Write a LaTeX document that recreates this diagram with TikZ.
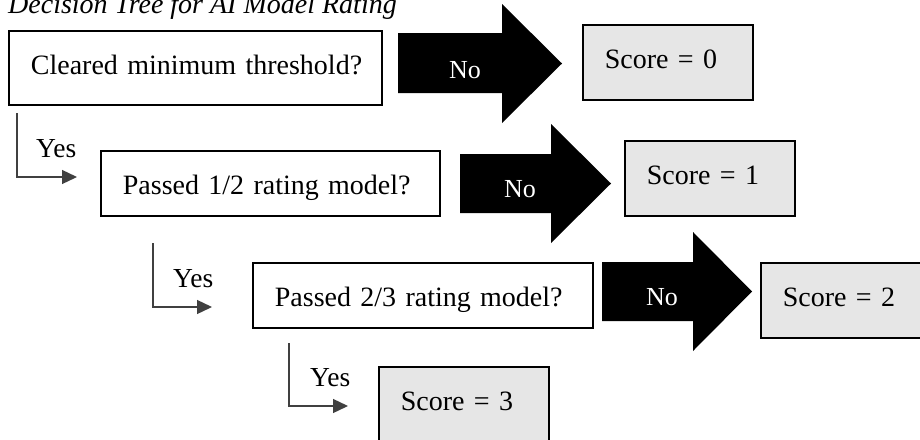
\documentclass[tikz,border=0pt]{standalone}
\usepackage{fontspec}
\setmainfont{Liberation Serif}
\usetikzlibrary{arrows.meta}
\definecolor{scorefill}{HTML}{E6E6E6}
\definecolor{connc}{HTML}{404040}
\tikzset{
  qbox/.style={draw=black, line width=1.8pt, fill=white, anchor=north west,
    inner xsep=22pt, inner ysep=0pt, align=left, text height=44pt,
    font=\fontsize{28}{32}\selectfont},
  sbox/.style={qbox, fill=scorefill, text width=126pt, text depth=31pt},
  blockarrow/.style={fill=black, draw=none},
  nolabel/.style={text=white, anchor=base west, inner sep=0pt, font=\fontsize{26}{30}\selectfont},
  yeslabel/.style={anchor=base west, inner sep=0pt, font=\fontsize{27.5}{30}\selectfont},
  yesline/.style={draw=connc, line width=1.3pt, -{Triangle[length=15pt,width=14pt]}},
}
\begin{document}
\begin{tikzpicture}[x=1pt,y=-1pt]
\clip (0,0) rectangle (920,439);
\fill[white] (0,0) rectangle (920,439);
% title
\node[anchor=base west, inner sep=0pt, font=\fontsize{28}{32}\selectfont\itshape] (title) at (8,13) {Decision Tree for AI Model Rating};
% question boxes
\node[qbox, text width=329pt, text depth=30pt] (q1) at (8,30) {\mbox{Cleared minimum threshold?}};
\node[qbox, text width=295pt, text depth=21pt] (q2) at (100,150) {\mbox{Passed 1/2 rating model?}};
\node[qbox, text width=296pt, text depth=21pt] (q3) at (252,262) {\mbox{Passed 2/3 rating model?}};
% score boxes
\node[sbox] (s0) at (582,24) {\mbox{Score = 0}};
\node[sbox] (s1) at (624,140) {\mbox{Score = 1}};
\node[sbox] (s2) at (760,262) {\mbox{Score = 2}};
\node[sbox] (s3) at (378,366) {\mbox{Score = 3}};
% block arrows (No)
\fill[blockarrow] (398,33) -- (502,33) -- (502,4) -- (562,63.5) -- (502,123) -- (502,93) -- (398,93) -- cycle;
\node[nolabel] (no1) at (449,78) {No};
\fill[blockarrow] (460,154) -- (551,154) -- (551,124) -- (611,183.5) -- (551,243) -- (551,213) -- (460,213) -- cycle;
\node[nolabel] (no2) at (504,197) {No};
\fill[blockarrow] (602,262) -- (693,262) -- (693,232) -- (752,291.5) -- (693,351) -- (693,321) -- (602,321) -- cycle;
\node[nolabel] (no3) at (646,305) {No};
% yes connectors
\coordinate (y1a) at (17,113);  \coordinate (y1b) at (77,177);
\coordinate (y2a) at (153,243); \coordinate (y2b) at (212,307);
\coordinate (y3a) at (289,343); \coordinate (y3b) at (348,406);
\draw[yesline] (y1a) |- (y1b);
\draw[yesline] (y2a) |- (y2b);
\draw[yesline] (y3a) |- (y3b);
\node[yeslabel] (yes1) at (36,157) {Yes};
\node[yeslabel] (yes2) at (173,287) {Yes};
\node[yeslabel] (yes3) at (310,386) {Yes};
\end{tikzpicture}
\end{document}
